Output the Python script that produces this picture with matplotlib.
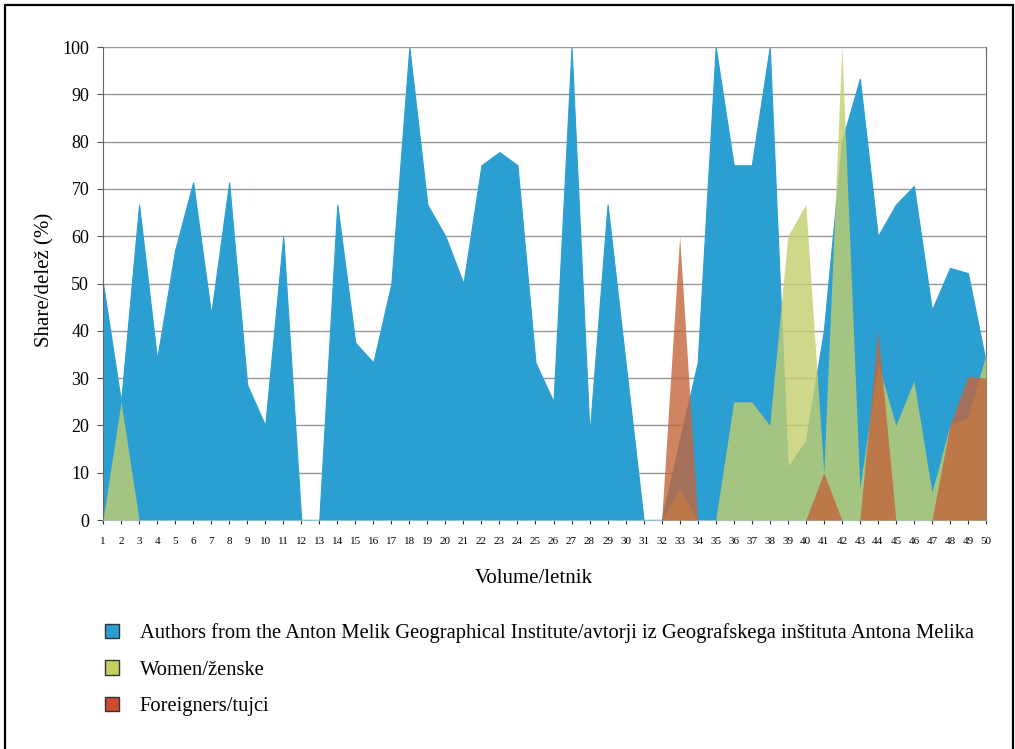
import numpy as np
import matplotlib
matplotlib.use('Agg')
import matplotlib.pyplot as plt
from matplotlib.patches import Patch, Rectangle

plt.rcParams['font.family'] = ['Liberation Serif', 'DejaVu Serif']

# Letniki 1..50
volumes = np.arange(1, 51)

# Delez avtorjev iz GIAM
authors_giam = [50, 25, 66.7, 34, 57.1, 71.4, 43.5, 71.4, 28.6, 20,
                60, 0, 0, 66.7, 37.5, 33.3, 50, 100, 66.7, 60,
                50, 75, 77.8, 75, 33.3, 25, 100, 18.2, 66.7, 33.3,
                0, 0, 16.7, 33.3, 100, 75, 75, 100, 11.1, 16.7,
                40, 80, 93.3, 60, 66.7, 70.6, 44.4, 53.3, 52.2, 33.3]

# Delez zensk
women = [0, 25, 0, 0, 0, 0, 0, 0, 0, 0,
         0, 0, 0, 0, 0, 0, 0, 0, 0, 0,
         0, 0, 0, 0, 0, 0, 0, 0, 0, 0,
         0, 0, 6.7, 0, 0, 25, 25, 20, 60, 66.7,
         10, 100, 6.7, 33.3, 20, 29.4, 5.9, 20, 21.7, 35]

# Delez tujcev
foreigners = [0, 0, 0, 0, 0, 0, 0, 0, 0, 0,
              0, 0, 0, 0, 0, 0, 0, 0, 0, 0,
              0, 0, 0, 0, 0, 0, 0, 0, 0, 0,
              0, 0, 60, 0, 0, 0, 0, 0, 0, 0,
              10, 0, 0, 40, 0, 0, 0, 20, 30.4, 30]

labels = ['Authors from the Anton Melik Geographical Institute/avtorji iz Geografskega inštituta Antona Melika',
          'Women/ženske',
          'Foreigners/tujci']

c_blue = '#2b9fd1'
c_green = '#c3ce6d'
c_orange = '#c3653b'

fig = plt.figure(figsize=(10.15, 7.49), dpi=100)
ax = fig.add_axes([0.1015, 0.3057, 0.8699, 0.6315])

ax.set_axisbelow(True)
ax.yaxis.grid(True, color='#999999', linewidth=1.0)

ax.fill_between(volumes, authors_giam, 0, color=c_blue, linewidth=0.8, edgecolor=c_blue, zorder=2)
ax.fill_between(volumes, women, 0, color=c_green, alpha=0.8, linewidth=0, zorder=3)
ax.fill_between(volumes, foreigners, 0, color=c_orange, alpha=0.8, linewidth=0, zorder=4)

ax.set_xlim(1, 50)
ax.set_ylim(0, 100)
ax.set_xticks(volumes)
ax.set_xticklabels([str(v) for v in volumes], fontsize=8)
ax.set_yticks(np.arange(0, 101, 10))
ax.tick_params(axis='y', labelsize=13, length=4, color='#555555', pad=6)
ax.tick_params(axis='x', length=3, color='#333333', pad=9)

for side in ['left', 'right']:
    ax.spines[side].set_color('#666666')
ax.spines['top'].set_visible(False)
ax.spines['bottom'].set_color('#8fbfd8')

ax.set_xlabel('Volume/letnik', fontsize=15)
ax.xaxis.set_label_coords(0.488, -0.103)
ax.set_ylabel('Share/delež (%)', fontsize=15)
ax.yaxis.set_label_coords(-0.0545, 0.507)

handles = [Patch(facecolor=c_blue, edgecolor='#333333', linewidth=1),
           Patch(facecolor='#c5cf5e', edgecolor='#333333', linewidth=1),
           Patch(facecolor='#cc4a2e', edgecolor='#333333', linewidth=1)]
fig.legend(handles, labels, loc='upper left', bbox_to_anchor=(0.095, 0.179),
           frameon=False, fontsize=14.8, handlelength=0.7, handleheight=0.7,
           labelspacing=0.84, handletextpad=1.0, borderaxespad=0)

# okvir slike
fig.patches.append(Rectangle((5 / 1015, -0.02), 1008 / 1015, 1.02 - 5 / 749,
                             transform=fig.transFigure, fill=False,
                             edgecolor='black', linewidth=1.6))

fig.savefig('out.png', dpi=100)
